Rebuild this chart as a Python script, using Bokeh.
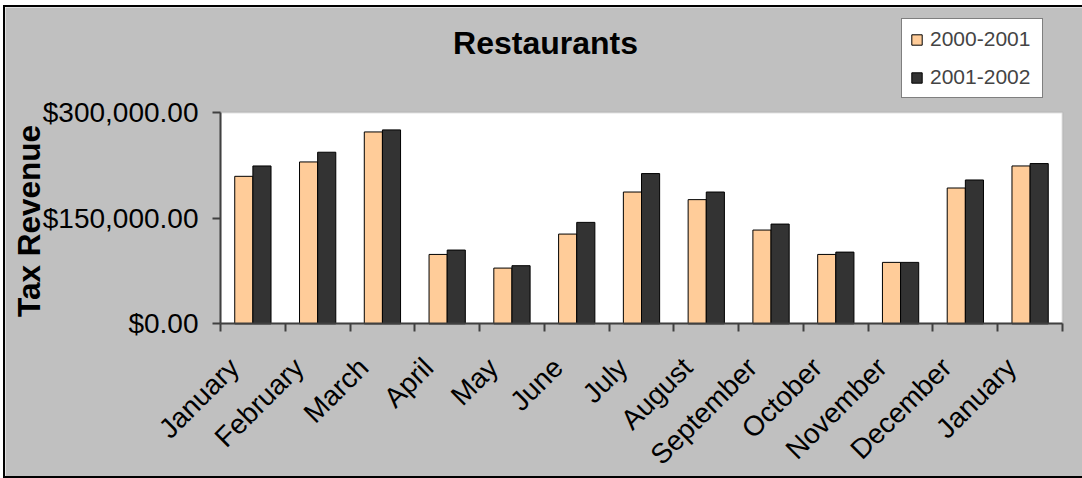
import numpy as np
from bokeh.plotting import figure
from bokeh.models import (ColumnDataSource, Range1d, FixedTicker, NumeralTickFormatter,
                          Label, Legend, LegendItem, BoxAnnotation)
from bokeh.transform import dodge
from bokeh.embed import file_html
from bokeh.resources import INLINE

# ---- data ----
months = ["January", "February", "March", "April", "May", "June", "July",
          "August", "September", "October", "November", "December", "January"]
rev_2000_2001 = [209400, 229800, 272400, 98500, 79100, 127400, 187100,
                 176300, 133100, 98500, 87200, 192800, 224100]
rev_2001_2002 = [224100, 243600, 275300, 104700, 82500, 144000, 213300,
                 187100, 141600, 101800, 87200, 204200, 227500]
series_names = ["2000-2001", "2001-2002"]
y_ticks = [0, 150000, 300000]
chart_title = "Restaurants"
y_title = "Tax Revenue"

FONT = "Liberation Sans"
n = len(months)
idx = list(range(n))
source = ColumnDataSource(dict(idx=idx, a=rev_2000_2001, b=rev_2001_2002))

# layout: figure placed at page x=5, y=7; the frame fills the whole figure and the axes are
# fixed at the plot-area edges, so every text sits inside the frame around the plot area
W, H = 1077, 469
AREA_L_PX, AREA_R_PX = 215.0, 1057.0      # figure-pixel columns of the plot area edges
AREA_TOP_PX, AREA_BOT_PX = 105.0, 316.3   # figure-pixel rows of the plot area edges
x_lo, x_hi = -0.5, n - 0.5
x_per_px = (x_hi - x_lo) / (AREA_R_PX - AREA_L_PX)
x_start = x_lo - AREA_L_PX * x_per_px
x_end = x_hi + (W - AREA_R_PX) * x_per_px
y_max = y_ticks[-1]
y_per_px = y_max / (AREA_BOT_PX - AREA_TOP_PX)
y_start = -(H - AREA_BOT_PX) * y_per_px
y_end = y_max + AREA_TOP_PX * y_per_px

p = figure(width=W, height=H, output_backend="svg", toolbar_location=None, title=None,
           x_range=Range1d(x_start, x_end), y_range=Range1d(y_start, y_end),
           min_border_left=0, min_border_right=0, min_border_top=0, min_border_bottom=0,
           background_fill_color="#C0C0C0", border_fill_color="#C0C0C0")
p.styles = {"margin-left": "5px", "margin-top": "7px", "box-shadow": "0 0 0 2px #000000"}
p.outline_line_color = None
p.grid.visible = False

# white plot area
p.add_layout(BoxAnnotation(left=x_lo, right=x_hi, bottom=0, top=y_max,
                           fill_color="white", fill_alpha=1, line_color="#A0A0A0",
                           line_width=2, level="underlay"))

r1 = p.vbar(x=dodge("idx", -0.14), top="a", width=0.28, source=source,
            fill_color="#FFCC99", line_color="#000000", line_width=1)
r2 = p.vbar(x=dodge("idx", 0.14), top="b", width=0.28, source=source,
            fill_color="#333333", line_color="#000000", line_width=1)

# x axis, fixed at y = 0
LBL_SHIFT = 0.29
xa = p.xaxis[0]
xa.fixed_location = 0
xa.bounds = (x_lo, x_hi)
label_pos = [i - LBL_SHIFT for i in idx]
xa.ticker = FixedTicker(ticks=label_pos, minor_ticks=[i - 0.5 for i in range(n + 1)])
xa.major_label_overrides = {t: m for t, m in zip(label_pos, months)}
xa.major_label_orientation = np.pi / 4
xa.major_tick_line_color = None
xa.major_tick_out = 0
xa.major_tick_in = 0
xa.minor_tick_line_color = "#404040"
xa.minor_tick_line_width = 2
xa.minor_tick_out = 8
xa.minor_tick_in = 0
xa.major_label_standoff = 31
xa.major_label_text_font = FONT
xa.major_label_text_font_size = "28px"
xa.major_label_text_color = "black"
xa.axis_line_color = "#404040"
xa.axis_line_width = 2

# y axis, fixed at the left edge of the plot area
ya = p.yaxis[0]
ya.fixed_location = x_lo
ya.bounds = (0, y_max)
ya.ticker = FixedTicker(ticks=y_ticks, minor_ticks=[])
ya.formatter = NumeralTickFormatter(format="$0,0.00")
ya.major_tick_out = 8
ya.major_tick_in = 0
ya.major_tick_line_color = "#404040"
ya.major_tick_line_width = 2
ya.minor_tick_line_color = None
ya.major_label_standoff = 14
ya.major_label_text_font = FONT
ya.major_label_text_font_size = "28px"
ya.major_label_text_color = "black"
ya.axis_line_color = "#404040"
ya.axis_line_width = 2

# y axis title
p.add_layout(Label(x=23, y=255.5, x_units="screen", y_units="screen", text=y_title,
                   angle=np.pi / 2, text_align="center", text_baseline="alphabetic",
                   text_font=FONT, text_font_style="bold", text_font_size="31.5px",
                   text_color="black"))

# chart title
p.add_layout(Label(x=540, y=433.5, x_units="screen", y_units="screen", text=chart_title,
                   text_align="center", text_baseline="alphabetic", text_font=FONT,
                   text_font_style="bold", text_font_size="32px", text_color="black"))

legend = Legend(items=[LegendItem(label=series_names[0], renderers=[r1]),
                       LegendItem(label=series_names[1], renderers=[r2])],
                location=(896, 378), background_fill_color="white", background_fill_alpha=1,
                border_line_color="black", border_line_width=1,
                label_text_font=FONT, label_text_font_size="21px", label_height=24,
                label_width=104, glyph_width=13, glyph_height=13, label_standoff=7,
                padding=8, spacing=14, margin=0)
p.add_layout(legend)

open("out.html", "w").write(file_html(p, INLINE))
